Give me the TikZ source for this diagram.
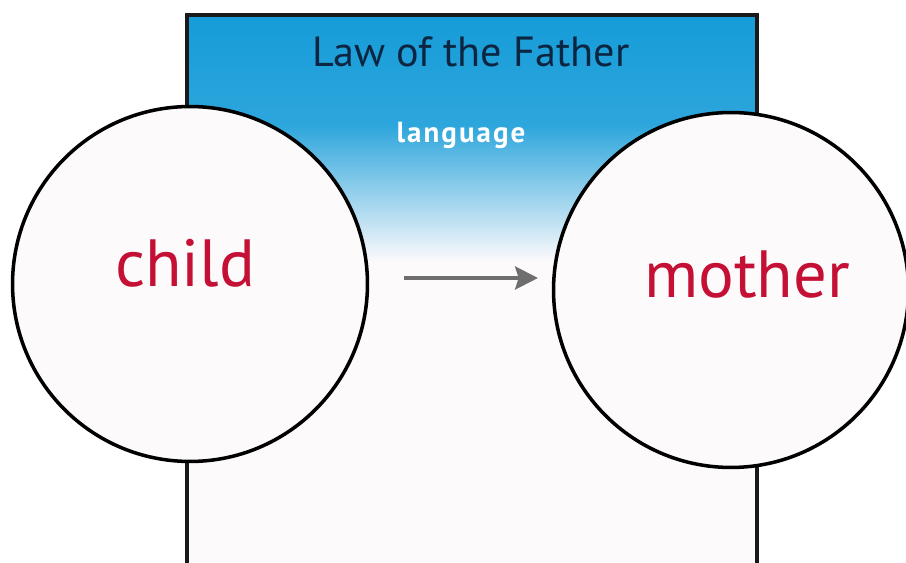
\documentclass[tikz,border=0pt]{standalone}
\usepackage{fontspec}
\setmainfont{PT Sans}
\usepackage{tikz}
\usetikzlibrary{positioning,arrows.meta,calc}

\definecolor{lawblue}{RGB}{22,156,216}
\definecolor{lawtext}{RGB}{12,38,66}
\definecolor{kinred}{RGB}{196,16,52}
\definecolor{paper}{RGB}{253,250,252}

\begin{document}
\begin{tikzpicture}[x=0.02cm,y=-0.02cm,
  wall/.style={line width=2pt,black!90},
  person/.style={circle,draw,line width=2pt,fill=paper,minimum size=7.1cm,inner sep=0pt},
  kin/.style={anchor=base,text=kinred,font=\fontsize{38}{38}\selectfont}]
\useasboundingbox (0,0) rectangle (906,563);
\fill[white] (0,0) rectangle (906,563);
% the father's frame
\fill[paper] (187,15) rectangle (757,563);
\shade[top color=lawblue,bottom color=lawblue!90!white] (187,15) rectangle (757,125);
\shade[top color=lawblue!90!white,bottom color=paper] (187,125) rectangle (757,262);
\draw[wall] (187,563) -- (187,15) -- (757,15) -- (757,563);
\node[anchor=base,text=lawtext,font=\fontsize{24}{24}\selectfont] (law) at (471,67) {Law of the Father};
\node[anchor=base,text=white,font=\bfseries\fontsize{16.5}{16.5}\selectfont\addfontfeature{LetterSpace=7}] (lang) at (461,143) {language};
% the two circles
\node[person] (child) at (190,284) {};
\node[person] (mother) at (731,290) {};
\node[kin] (childtxt) at (185,287) {child};
\node[kin] (mothertxt) at (747,298) {mother};
\coordinate (from) at (404,278);
\coordinate (to) at (538,278);
\draw[line width=2.5pt,black!57,-{Stealth[length=13pt,width=13pt,inset=2pt]}] (from) -- (to);
\end{tikzpicture}
\end{document}
